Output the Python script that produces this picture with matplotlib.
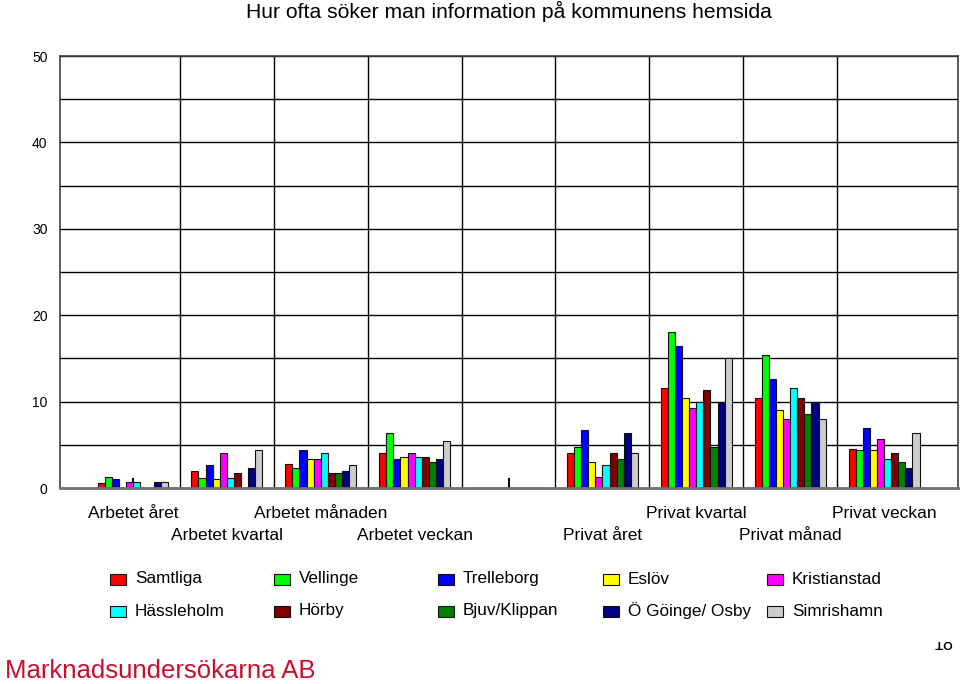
import matplotlib
matplotlib.use('Agg')
import matplotlib.pyplot as plt
from matplotlib.patches import Rectangle
from matplotlib.transforms import Bbox, TransformedBbox
import numpy as np

plt.rcParams['font.family'] = ['Liberation Sans', 'DejaVu Sans']

categories = ['Arbetet året', 'Arbetet kvartal', 'Arbetet månaden', 'Arbetet veckan', '',
              'Privat året', 'Privat kvartal', 'Privat månad', 'Privat veckan']

series = ['Samtliga', 'Vellinge', 'Trelleborg', 'Eslöv', 'Kristianstad',
          'Hässleholm', 'Hörby', 'Bjuv/Klippan', 'Ö Göinge/ Osby', 'Simrishamn']

colors = ['#ff0000', '#00ff00', '#0000ff', '#ffff00', '#ff00ff',
          '#00ffff', '#800000', '#008000', '#000080', '#cccccc']

# values per series, one per category (empty category = 0)
samtliga = [0.6, 2.0, 2.8, 4.0, 0, 4.0, 11.6, 10.4, 4.5]
vellinge = [1.3, 1.2, 2.3, 6.4, 0, 4.7, 18.0, 15.4, 4.4]
trelleborg = [1.0, 2.7, 4.4, 3.4, 0, 6.7, 16.4, 12.6, 7.0]
eslov = [0, 1.0, 3.4, 3.6, 0, 3.0, 10.4, 9.0, 4.4]
kristianstad = [0.7, 4.0, 3.4, 4.0, 0, 1.3, 9.3, 8.0, 5.7]
hassleholm = [0.7, 1.2, 4.0, 3.6, 0, 2.7, 10.0, 11.6, 3.4]
horby = [0, 1.7, 1.7, 3.6, 0, 4.0, 11.4, 10.4, 4.0]
bjuv_klippan = [0, 0, 1.7, 3.0, 0, 3.4, 4.7, 8.6, 3.0]
o_goinge_osby = [0.7, 2.3, 2.0, 3.4, 0, 6.4, 10.0, 10.0, 2.3]
simrishamn = [0.7, 4.4, 2.7, 5.4, 0, 4.0, 15.0, 8.0, 6.4]

values = [samtliga, vellinge, trelleborg, eslov, kristianstad,
          hassleholm, horby, bjuv_klippan, o_goinge_osby, simrishamn]

W, H = 960, 684
fig = plt.figure(figsize=(W / 100, H / 100), dpi=100)


def fx(x):
    return x / W


def fy(y):
    return 1 - y / H


ax = fig.add_axes([fx(60), fy(488), fx(958) - fx(60), fy(56) - fy(488)])
ax.set_axisbelow(True)

x = np.arange(len(categories))
bw = 0.0755
for j, (name, vals) in enumerate(zip(series, values)):
    ax.bar(x + (j - 4.5) * bw, vals, width=bw, color=colors[j],
           edgecolor='#111111', linewidth=0.8, label=name)

ax.set_ylim(0, 50)
ax.set_xlim(-0.777, 8.787)
ax.set_yticks(range(0, 51, 10))
ax.set_yticks(range(0, 51, 5), minor=True)
ax.yaxis.grid(True, which='both', color='black', linewidth=1.0)
for k in range(len(categories) - 1):
    ax.axvline(k + 0.5, color='black', linewidth=1.0, zorder=0.5)

# staggered category labels: even ones on the upper row, odd ones below
ax.set_xticks(x[::2])
ax.set_xticklabels(categories[::2], fontsize=12.5)
ax.set_xticks(x[1::2], minor=True)
ax.set_xticklabels(categories[1::2], minor=True, fontsize=12.5)
ax.tick_params(axis='x', which='major', direction='in', length=7, width=1.5,
               color='black', pad=13)
ax.tick_params(axis='x', which='minor', direction='in', length=7, width=1.5,
               color='black', pad=29)
ax.tick_params(axis='y', which='both', length=0, pad=9, labelsize=10)

for side in ['left', 'top', 'right']:
    ax.spines[side].set_color('#404040')
    ax.spines[side].set_linewidth(1.2)
ax.spines['bottom'].set_color('#707070')
ax.spines['bottom'].set_linewidth(2.0)

fig.text(fx(509), fy(11), 'Hur ofta söker man information på kommunens hemsida',
         ha='center', va='center', fontsize=15.2)

# legend, 2 rows x 5 columns
patch_x = [110, 274, 438, 603, 767]
row_y = [579, 611]
for i, name in enumerate(series):
    r, c = divmod(i, 5)
    px, py = patch_x[c], row_y[r]
    fig.add_artist(Rectangle((fx(px), fy(py + 5.5)), fx(16), 11 / H,
                             transform=fig.transFigure, facecolor=colors[i],
                             edgecolor='#111111', linewidth=0.8))
    fig.text(fx(px + 25), fy(py), name, ha='left', va='center', fontsize=12.3)

fig.text(fx(5), fy(671), 'Marknadsundersökarna AB', ha='left', va='center',
         fontsize=18.5, color='#c8102e')

pg = fig.text(fx(944), fy(646), '18', ha='center', va='center', fontsize=13)
pg.set_clip_box(TransformedBbox(Bbox([[0, 0], [1, fy(642)]]), fig.transFigure))
pg.set_clip_on(True)

fig.savefig('out.png', dpi=100)
